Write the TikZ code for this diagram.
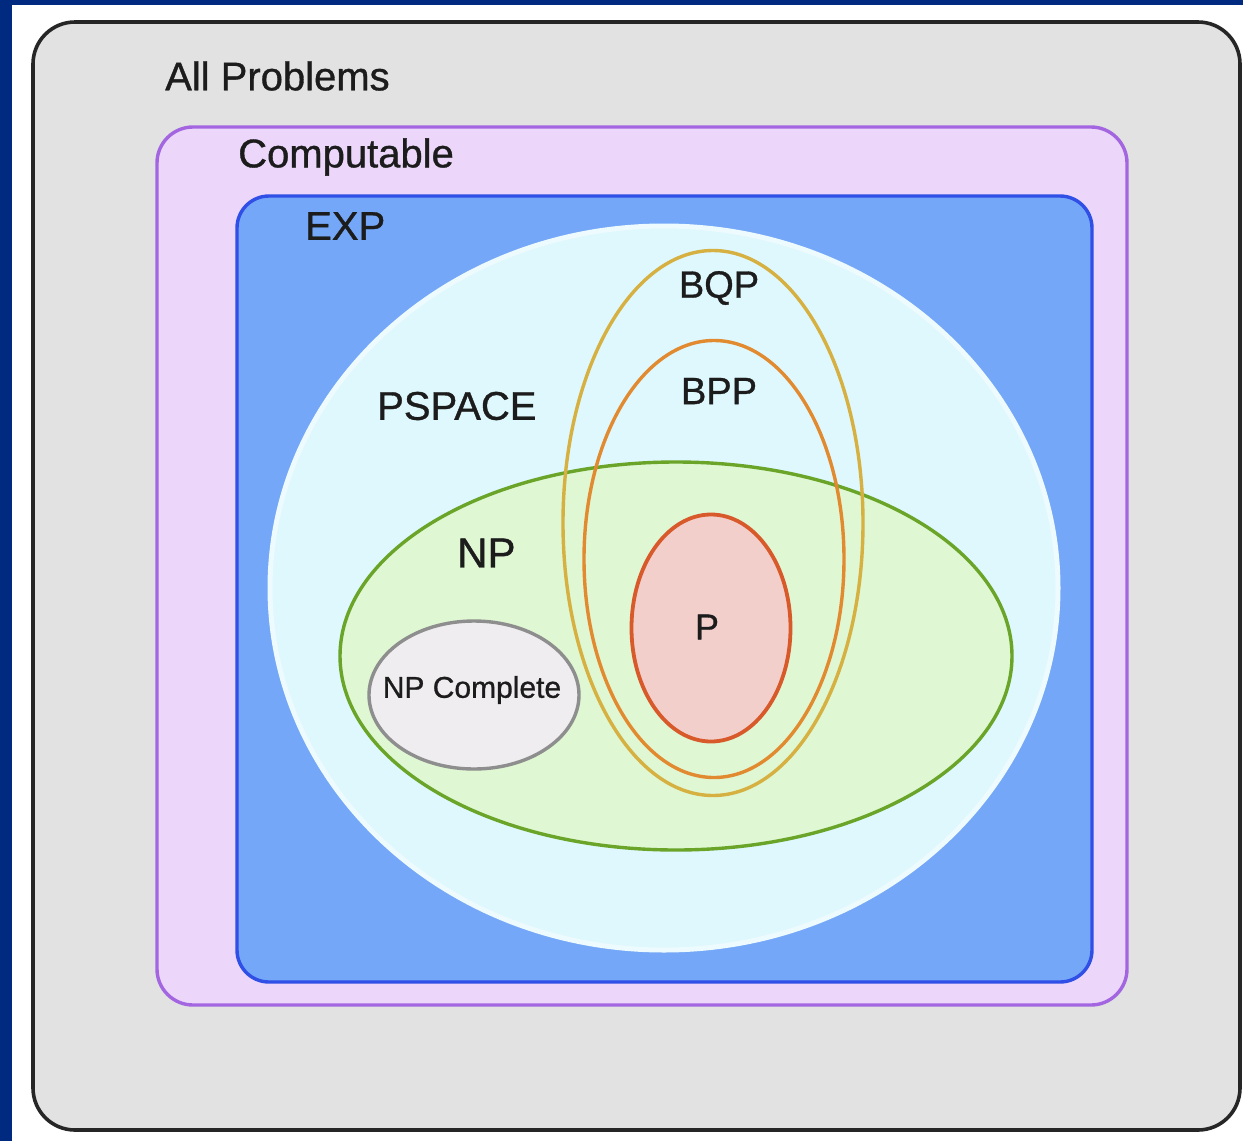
\documentclass[tikz,border=0pt]{standalone}
\usepackage{fontspec}
\setmainfont{Liberation Sans}
\newfontfamily\labelfont[FakeBold=0.9]{Liberation Sans}
\usetikzlibrary{shapes.geometric}

\definecolor{navy}{HTML}{002A80}
\definecolor{allfill}{HTML}{E2E2E2}
\definecolor{alldraw}{HTML}{262626}
\definecolor{compfill}{HTML}{ECD7FA}
\definecolor{compdraw}{HTML}{A366E0}
\definecolor{expfill}{HTML}{74A7F7}
\definecolor{expdraw}{HTML}{2F4FE6}
\definecolor{psfill}{HTML}{DEF8FD}
\definecolor{psedge}{HTML}{EEFBFE}
\definecolor{npfill}{HTML}{DFF7D3}
\definecolor{npdraw}{HTML}{6AA52A}
\definecolor{npcfill}{HTML}{EFEDF0}
\definecolor{npcdraw}{HTML}{8E8E8E}
\definecolor{bqpdraw}{HTML}{D6B040}
\definecolor{bppdraw}{HTML}{E28A30}
\definecolor{pfill}{HTML}{F3CFCC}
\definecolor{pdraw}{HTML}{D85A2A}
\definecolor{labeltext}{HTML}{1C1C1C}

\tikzset{
  region/.style={line width=3.4pt},
  classlabel/.style={font=\labelfont\fontsize{40}{40}\selectfont, text=labeltext, inner sep=0pt},
  smalllabel/.style={font=\labelfont\fontsize{30}{30}\selectfont, text=labeltext, inner sep=0pt},
  setshape/.style={ellipse, inner sep=0pt, outer sep=0pt, line width=3.4pt}
}

\begin{document}
\begin{tikzpicture}[x=1pt, y=-1pt]
  \useasboundingbox (0,0) rectangle (1243,1141);
  \fill[white] (0,0) rectangle (1243,1141);
  % frame strips
  \fill[navy] (0,0) rectangle (12,1141);
  \fill[navy] (0,0) rectangle (1243,5);

  % nested rounded boxes
  \draw[region, line width=3.6pt, draw=alldraw, fill=allfill, rounded corners=42pt]
    (33,22) rectangle (1240,1130);
  \draw[region, draw=compdraw, fill=compfill, rounded corners=36pt]
    (157,127) rectangle (1127,1005);
  \draw[region, draw=expdraw, fill=expfill, rounded corners=32pt]
    (237,196) rectangle (1092,982);

  % PSPACE disc with a soft rim
  \path[fill=psfill, draw=psedge, line width=5pt] (664,588) ellipse (394 and 362);

  % NP
  \node[setshape, draw=npdraw, fill=npfill,
        minimum width=672pt, minimum height=388pt] (np) at (676,656) {};
  % NP Complete
  \node[setshape, draw=npcdraw, fill=npcfill,
        minimum width=210pt, minimum height=148pt] (npc) at (474,695) {};
  % BQP and BPP outlines
  \node[setshape, draw=bqpdraw,
        minimum width=300pt, minimum height=545pt] (bqp) at (713,523) {};
  \node[setshape, draw=bppdraw,
        minimum width=260pt, minimum height=437pt] (bpp) at (714,559) {};
  % P
  \node[setshape, draw=pdraw, fill=pfill, line width=3.8pt,
        minimum width=159pt, minimum height=227pt] (p) at (711,628) {};

  % labels
  \node[classlabel, anchor=west] (lall) at (165,76) {All Problems};
  \node[classlabel, anchor=west] (lcomp) at (238,157) {Computable};
  \node[classlabel, anchor=west] (lexp) at (305,226) {EXP};
  \node[classlabel, anchor=west] (lps) at (377,406) {PSPACE};
  \node[classlabel, anchor=west, font=\labelfont\fontsize{42}{42}\selectfont] (lnp) at (457,553) {NP};
  \node[classlabel, font=\labelfont\fontsize{38}{38}\selectfont] (lbqp) at (719,288) {BQP};
  \node[classlabel, font=\labelfont\fontsize{38}{38}\selectfont] (lbpp) at (719,391) {BPP};
  \node[classlabel, font=\labelfont\fontsize{36}{36}\selectfont] (lp) at (707,627) {P};
  \node[smalllabel] (lnpc) at (472,690) {NP Complete};
\end{tikzpicture}
\end{document}
